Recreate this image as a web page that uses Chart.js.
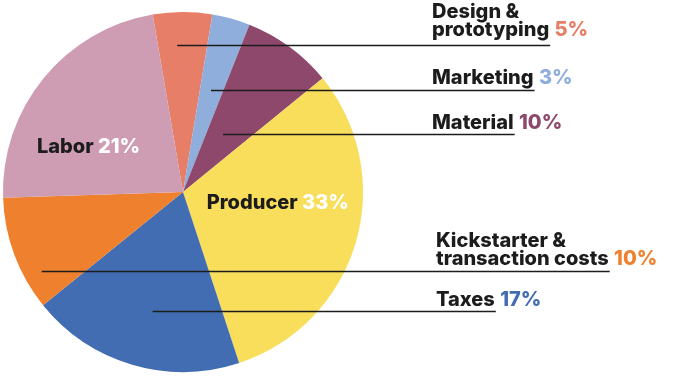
<!DOCTYPE html>
<html>
<head>
<meta charset="utf-8">
<script src="https://cdn.jsdelivr.net/npm/chart.js@4.4.1/dist/chart.umd.min.js"></script>
<style>
  html, body { margin: 0; padding: 0; background: #ffffff; }
  #wrap { position: relative; width: 680px; height: 376px; }
</style>
</head>
<body>
<div id="wrap"><canvas id="c" width="680" height="376"></canvas></div>
<script>
// ---- data ----
const categories = ['Design & prototyping', 'Marketing', 'Material', 'Producer', 'Taxes', 'Kickstarter & transaction costs', 'Labor'];
const labelLines = [['Design &', 'prototyping'], ['Marketing'], ['Material'], ['Producer'], ['Taxes'], ['Kickstarter &', 'transaction costs'], ['Labor']];
const percentLabels = ['5%', '3%', '10%', '33%', '17%', '10%', '21%'];
const shares = [5.3, 3.4, 8.1, 30.8, 19.2, 10.3, 22.8];
const colors = ['#E77E67', '#8FAEDC', '#8D486B', '#F8DE5B', '#426DB2', '#EF812E', '#CE9CB3'];

// ---- label layout (annotation styling, not data) ----
const outside = {
  0: { t: 0.39, r: 0.82, x: 432, base: 9 },
  1: { t: 0.48, r: 0.59, x: 432, base: 6 },
  2: { t: 0.45, r: 0.39, x: 432, base: 5 },
  5: { t: 0.26, r: 0.90, x: 436, base: 6 },
  4: { t: 0.47, r: 0.68, x: 436, base: 5 }
};
const inside = {
  6: { t: 0.33, r: 0.58 },
  3: { t: 0.41, r: 0.53 }
};
const FONT = '800 20px Inter, "DejaVu Sans", sans-serif';
const LINE_H = 18;

const labelPlugin = {
  id: 'sliceLabels',
  afterDatasetsDraw(chart) {
    const ctx = chart.ctx;
    const arcs = chart.getDatasetMeta(0).data;
    ctx.save();
    ctx.font = FONT;
    ctx.textBaseline = 'alphabetic';
    arcs.forEach((arc, i) => {
      const p = arc.getProps(['x', 'y', 'startAngle', 'endAngle', 'outerRadius'], true);
      if (outside[i]) {
        const o = outside[i];
        const ang = p.startAngle + (p.endAngle - p.startAngle) * o.t;
        const ax = p.x + Math.cos(ang) * p.outerRadius * o.r;
        const ay = p.y + Math.sin(ang) * p.outerRadius * o.r;
        const lines = labelLines[i];
        const lastBase = ay - o.base;
        ctx.fillStyle = '#1c1c1c';
        ctx.textAlign = 'left';
        lines.forEach((ln, k) => {
          ctx.fillText(ln, o.x, lastBase - (lines.length - 1 - k) * LINE_H);
        });
        const lastW = ctx.measureText(lines[lines.length - 1]).width;
        const spaceW = ctx.measureText(' ').width;
        ctx.fillStyle = colors[i];
        ctx.fillText(percentLabels[i], o.x + lastW + spaceW + 1, lastBase);
        ctx.strokeStyle = '#1c1c1c';
        ctx.lineWidth = 1.6;
        ctx.beginPath();
        ctx.moveTo(ax, Math.round(ay) + 0.5);
        ctx.lineTo(o.x + lastW + 1, Math.round(ay) + 0.5);
        ctx.stroke();
      } else if (inside[i]) {
        const o = inside[i];
        const ang = p.startAngle + (p.endAngle - p.startAngle) * o.t;
        const cx = p.x + Math.cos(ang) * p.outerRadius * o.r;
        const cy = p.y + Math.sin(ang) * p.outerRadius * o.r;
        const name = labelLines[i][0];
        const nameW = ctx.measureText(name + ' ').width;
        const pctW = ctx.measureText(percentLabels[i]).width;
        const left = cx - (nameW + pctW) / 2;
        ctx.textAlign = 'left';
        ctx.textBaseline = 'middle';
        ctx.fillStyle = '#1c1c1c';
        ctx.fillText(name, left, cy);
        ctx.fillStyle = '#ffffff';
        ctx.fillText(percentLabels[i], left + nameW, cy);
        ctx.textBaseline = 'alphabetic';
      }
    });
    ctx.restore();
  }
};

new Chart(document.getElementById('c'), {
  type: 'pie',
  data: {
    labels: categories,
    datasets: [{
      data: shares,
      backgroundColor: colors,
      borderWidth: 0,
      hoverOffset: 0
    }]
  },
  options: {
    responsive: false,
    animation: false,
    rotation: -9.7,
    layout: { padding: { left: 3, right: 317, top: 12, bottom: 4 } },
    plugins: {
      legend: { display: false },
      tooltip: { enabled: false }
    }
  },
  plugins: [labelPlugin]
});
</script>
</body>
</html>
